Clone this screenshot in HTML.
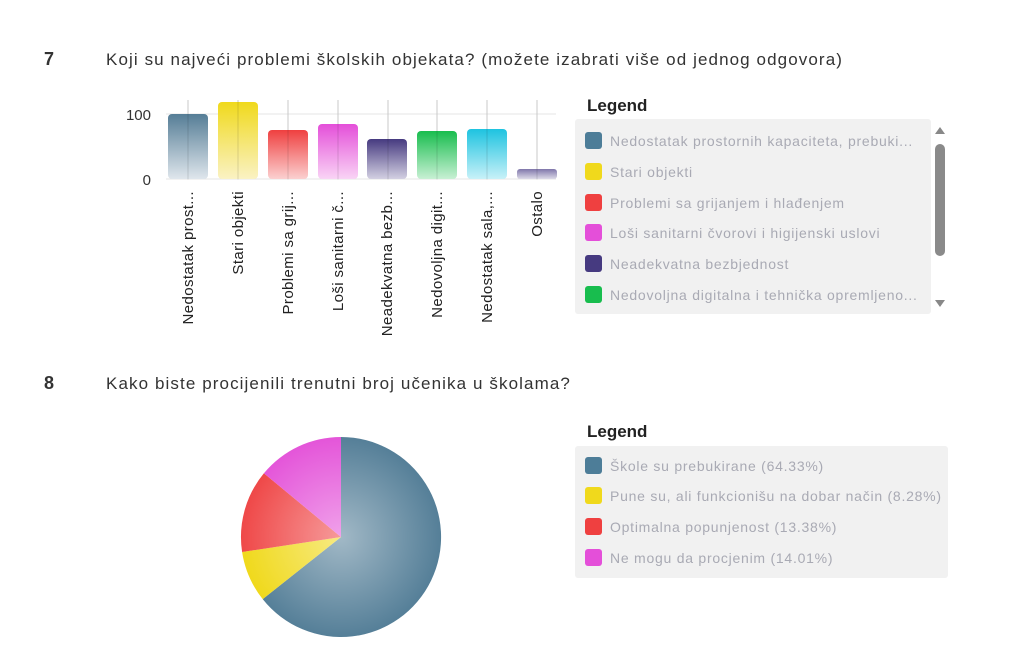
<!DOCTYPE html><html><head><style>
body{margin:0;width:1023px;height:647px;background:#fff;font-family:"Liberation Sans",sans-serif;position:relative;overflow:hidden}
.a{position:absolute}
.num{font-size:18px;font-weight:bold;color:#333}
.q{font-size:17px;color:#333;letter-spacing:1.1px;white-space:nowrap}
.lg{font-size:17px;font-weight:bold;color:#222}
.box{background:#f1f1f1;border-radius:3px}
.row{position:absolute;left:10px;font-size:14px;color:#a9aab4;white-space:nowrap;letter-spacing:0.75px}
.row i{display:inline-block;width:17px;height:17px;border-radius:3px;vertical-align:-3px;margin-right:8px}
</style></head><body>
<div class="a num" style="left:44px;top:49px">7</div>
<div class="a q" style="left:106px;top:50px">Koji su najveći problemi školskih objekata? (možete izabrati više od jednog odgovora)</div>
<svg class="a" style="left:0;top:0" width="570" height="340">
<defs>
<linearGradient id="g1" x1="0" y1="0" x2="0" y2="1"><stop offset="0" stop-color="#557d96"/><stop offset="1" stop-color="#dfe6ec"/></linearGradient>
<linearGradient id="g2" x1="0" y1="0" x2="0" y2="1"><stop offset="0" stop-color="#f0d91c"/><stop offset="1" stop-color="#faf2c4"/></linearGradient>
<linearGradient id="g3" x1="0" y1="0" x2="0" y2="1"><stop offset="0" stop-color="#ef4040"/><stop offset="1" stop-color="#fbd0d0"/></linearGradient>
<linearGradient id="g4" x1="0" y1="0" x2="0" y2="1"><stop offset="0" stop-color="#e44fd9"/><stop offset="1" stop-color="#f9d4f5"/></linearGradient>
<linearGradient id="g5" x1="0" y1="0" x2="0" y2="1"><stop offset="0" stop-color="#463a80"/><stop offset="1" stop-color="#d3d0e2"/></linearGradient>
<linearGradient id="g6" x1="0" y1="0" x2="0" y2="1"><stop offset="0" stop-color="#18bd4e"/><stop offset="1" stop-color="#c8f0d4"/></linearGradient>
<linearGradient id="g7" x1="0" y1="0" x2="0" y2="1"><stop offset="0" stop-color="#1ec3e0"/><stop offset="1" stop-color="#c8f1f8"/></linearGradient>
<linearGradient id="g8" x1="0" y1="0" x2="0" y2="1"><stop offset="0" stop-color="#7f76aa"/><stop offset="1" stop-color="#dcdae8"/></linearGradient>
</defs>
<line x1="166" y1="114" x2="556" y2="114" stroke="#e4e4e4"/>
<line x1="166" y1="179" x2="556" y2="179" stroke="#e4e4e4"/>
<g stroke="#e4e4e4"><line x1="188" y1="100" x2="188" y2="180"/><line x1="238" y1="100" x2="238" y2="180"/><line x1="288" y1="100" x2="288" y2="180"/><line x1="338" y1="100" x2="338" y2="180"/><line x1="388" y1="100" x2="388" y2="180"/><line x1="437" y1="100" x2="437" y2="180"/><line x1="487" y1="100" x2="487" y2="180"/><line x1="537" y1="100" x2="537" y2="180"/></g>
<rect x="168" y="114" width="40" height="65" rx="4" fill="url(#g1)"/>
<rect x="218" y="102" width="40" height="77" rx="4" fill="url(#g2)"/>
<rect x="268" y="130" width="40" height="49" rx="4" fill="url(#g3)"/>
<rect x="318" y="124" width="40" height="55" rx="4" fill="url(#g4)"/>
<rect x="367" y="139" width="40" height="40" rx="4" fill="url(#g5)"/>
<rect x="417" y="131" width="40" height="48" rx="4" fill="url(#g6)"/>
<rect x="467" y="129" width="40" height="50" rx="4" fill="url(#g7)"/>
<rect x="517" y="169" width="40" height="10" rx="3" fill="url(#g8)"/>
<g stroke="rgba(0,0,0,0.12)"><line x1="188" y1="100" x2="188" y2="179"/><line x1="238" y1="100" x2="238" y2="179"/><line x1="288" y1="100" x2="288" y2="179"/><line x1="338" y1="100" x2="338" y2="179"/><line x1="388" y1="100" x2="388" y2="179"/><line x1="437" y1="100" x2="437" y2="179"/><line x1="487" y1="100" x2="487" y2="179"/><line x1="537" y1="100" x2="537" y2="179"/></g>
<text x="151" y="120" font-size="15" text-anchor="end" fill="#333" font-family="Liberation Sans">100</text>
<text x="151" y="185" font-size="15" text-anchor="end" fill="#333" font-family="Liberation Sans">0</text>
<g font-size="15" fill="#222" font-family="Liberation Sans" text-anchor="end" letter-spacing="0.4">
<text transform="translate(193,191) rotate(-90)">Nedostatak prost...</text>
<text transform="translate(243,191) rotate(-90)">Stari objekti</text>
<text transform="translate(293,191) rotate(-90)">Problemi sa grij...</text>
<text transform="translate(343,191) rotate(-90)">Loši sanitarni č...</text>
<text transform="translate(392,191) rotate(-90)">Neadekvatna bezb...</text>
<text transform="translate(442,191) rotate(-90)">Nedovoljna digit...</text>
<text transform="translate(492,191) rotate(-90)">Nedostatak sala,...</text>
<text transform="translate(542,191) rotate(-90)">Ostalo</text>
</g>
</svg>

<div class="a lg" style="left:587px;top:96px">Legend</div>
<div class="a box" style="left:575px;top:119px;width:356px;height:195px;overflow:hidden">
<div class="row" style="top:13px"><i style="background:#4d7d98"></i>Nedostatak prostornih kapaciteta, prebuki...</div>
<div class="row" style="top:44px"><i style="background:#f0d91c"></i>Stari objekti</div>
<div class="row" style="top:75px"><i style="background:#ef4040"></i>Problemi sa grijanjem i hlađenjem</div>
<div class="row" style="top:105px"><i style="background:#e44fd9"></i>Loši sanitarni čvorovi i higijenski uslovi</div>
<div class="row" style="top:136px"><i style="background:#463a80"></i>Neadekvatna bezbjednost</div>
<div class="row" style="top:167px"><i style="background:#18bd4e"></i>Nedovoljna digitalna i tehnička opremljeno...</div>
</div>
<svg class="a" style="left:932px;top:124px" width="16" height="190">
<path d="M3 10 L8 3 L13 10Z" fill="#888"/>
<rect x="3" y="20" width="10" height="112" rx="5" fill="#8a8a8a"/>
<path d="M3 176 L8 183 L13 176Z" fill="#888"/>
</svg>

<div class="a num" style="left:44px;top:373px">8</div>
<div class="a q" style="left:106px;top:374px">Kako biste procijenili trenutni broj učenika u školama?</div>
<svg class="a" style="left:0;top:400px" width="570" height="247">
<defs><radialGradient id="rp" cx="341" cy="137" r="100" gradientUnits="userSpaceOnUse">
<stop offset="0" stop-color="#fff" stop-opacity="0.45"/><stop offset="1" stop-color="#fff" stop-opacity="0"/></radialGradient></defs>
<path d="M341 137 L341 37 A100 100 0 1 1 262.7 199.1Z" fill="#557f98"/>
<path d="M341 137 L262.7 199.1 A100 100 0 0 1 242.1 152Z" fill="#f0d91c"/>
<path d="M341 137 L242.1 152 A100 100 0 0 1 263.9 73.3Z" fill="#ef4848"/>
<path d="M341 137 L263.9 73.3 A100 100 0 0 1 341 37Z" fill="#e455d9"/>
<circle cx="341" cy="137" r="100" fill="url(#rp)"/>
</svg>
<div class="a lg" style="left:587px;top:422px">Legend</div>
<div class="a box" style="left:575px;top:446px;width:373px;height:132px">
<div class="row" style="top:11px"><i style="background:#4d7d98"></i>Škole su prebukirane (64.33%)</div>
<div class="row" style="top:41px"><i style="background:#f0d91c"></i>Pune su, ali funkcionišu na dobar način (8.28%)</div>
<div class="row" style="top:72px"><i style="background:#ef4040"></i>Optimalna popunjenost (13.38%)</div>
<div class="row" style="top:103px"><i style="background:#e44fd9"></i>Ne mogu da procjenim (14.01%)</div>
</div>
</body></html>
